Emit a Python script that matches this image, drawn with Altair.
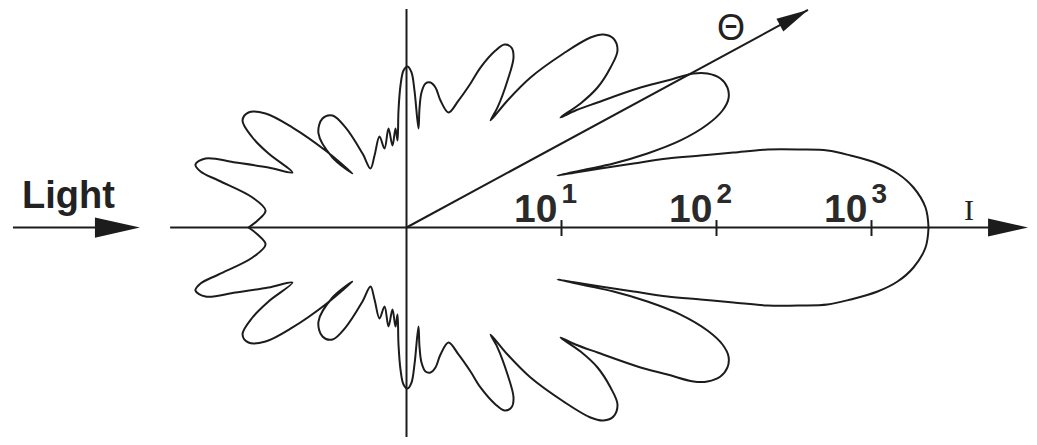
import math
import altair as alt
import pandas as pd

# ---- scattering diagram (upper half, 0 -> 180 deg) ----
# angle in degrees, radius in decades of intensity (log10 I)
theta_upper = [
    0.0, 2.21, 4.51, 6.28, 7.74, 9.21, 10.36, 11.20, 12.19, 12.92, 13.76, 14.81, 15.75, 16.91, 18.03, 19.00,
    17.95, 17.18, 17.07, 17.62, 18.89, 20.32, 21.83, 23.56, 25.39, 27.10, 28.22, 29.39, 31.03, 33.20, 34.70, 35.54,
    35.48, 36.24, 38.11, 40.00, 42.40, 44.41, 45.92, 47.94, 50.42, 51.51, 51.87,
    52.83, 55.51, 57.81, 59.74, 61.83, 63.30, 65.18, 66.04, 67.74, 69.93,
    75.01, 78.30, 80.60, 82.48, 83.66, 83.77, 83.09,
    86.66, 88.15, 89.64, 91.09, 92.42, 93.91, 95.91,
    96.34, 99.69, 100.30, 105.56, 106.53, 113.96, 121.39,
    120.74, 121.38, 123.45, 127.62, 133.11, 136.59, 135.00,
    136.45, 138.74, 141.04, 143.95, 146.88, 149.70, 151.80, 154.25,
    156.50, 159.19, 161.05, 163.38, 164.79, 165.96, 168.98, 173.13, 177.31, 180.0,
]
logI_upper = [
    3.368, 3.351, 3.281, 3.187, 3.067, 2.902, 2.761, 2.591, 2.383, 2.164, 1.953, 1.742, 1.522, 1.308, 1.147, 1.030,
    1.214, 1.398, 1.626, 1.855, 2.052, 2.174, 2.238, 2.259, 2.242, 2.181, 2.101, 1.932, 1.739, 1.473, 1.326, 1.221,
    1.379, 1.528, 1.673, 1.777, 1.808, 1.779, 1.706, 1.512, 1.256, 1.047, 0.878,
    0.972, 1.151, 1.296, 1.344, 1.339, 1.278, 1.137, 1.017, 0.885, 0.790,
    0.848, 0.922, 0.948, 0.937, 0.876, 0.772, 0.643,
    0.885, 1.001, 1.039, 1.013, 0.917, 0.757, 0.564,
    0.643, 0.537, 0.649, 0.529, 0.612, 0.508, 0.446,
    0.555, 0.756, 0.866, 0.888, 0.831, 0.657, 0.493,
    0.721, 0.978, 1.170, 1.261, 1.263, 1.151, 1.010, 0.817,
    0.971, 1.180, 1.371, 1.421, 1.377, 1.250, 1.012, 0.916, 0.962, 1.019,
]

tick_values = [1, 2, 3]
tick_exponents = ["1", "2", "3"]
theta_axis_deg = 28.45

# the lower half of the diagram is the mirror image of the upper half
theta_all = theta_upper + [-t for t in reversed(theta_upper)]
logI_all = logI_upper + list(reversed(logI_upper))
curve = pd.DataFrame({"theta": theta_all, "logI": logI_all, "order": list(range(len(theta_all)))})

# ---- layout ----
W, H = 1021, 429
PX = 155.0                      # pixels per decade
X0 = -(406.5 - 8) / PX
Y1 = (227.5 - 8) / PX
xs = alt.Scale(domain=[X0, X0 + W / PX], nice=False, zero=False)
ys = alt.Scale(domain=[Y1 - H / PX, Y1], nice=False, zero=False)
INK = "#1c1c1c"


def xq(f):
    return alt.X(f, type="quantitative", scale=xs, axis=None)


def yq(f):
    return alt.Y(f, type="quantitative", scale=ys, axis=None)


curve_layer = alt.Chart(curve).transform_calculate(
    x="datum.logI * cos(datum.theta * PI / 180)",
    y="datum.logI * sin(datum.theta * PI / 180)",
).mark_line(color=INK, strokeWidth=2, strokeJoin="round", interpolate="catmull-rom").encode(
    x=xq("x"), y=yq("y"), order="order:Q"
)

ca, sa = math.cos(math.radians(theta_axis_deg)), math.sin(math.radians(theta_axis_deg))
t_len = 2.946
segments = pd.DataFrame({
    "x":  [-1.525, -2.539, 0.0, 0.0] + tick_values,
    "y":  [0.0, 0.0, 1.41, 0.0] + [0.048] * 3,
    "x2": [3.77, -1.90, 0.0, t_len * ca] + tick_values,
    "y2": [0.0, 0.0, -1.40, t_len * sa] + [-0.055] * 3,
})
rule_layer = alt.Chart(segments).mark_rule(color=INK, strokeWidth=2).encode(
    x=xq("x"), y=yq("y"), x2="x2:Q", y2="y2:Q"
)

heads = pd.DataFrame({
    "x": [-1.865, 3.881, (t_len - 0.103) * ca],
    "y": [0.0, 0.0, (t_len - 0.103) * sa],
    "angle": [0.0, 0.0, 360 - theta_axis_deg],
    "size": [2025, 1600, 1024],
})
head_layer = alt.Chart(heads).mark_point(
    shape="M-1,-0.45L1,0L-1,0.45Z", filled=True, opacity=1, color=INK, strokeWidth=0
).encode(
    x=xq("x"), y=yq("y"),
    angle=alt.Angle("angle:Q", scale=None),
    size=alt.Size("size:Q", scale=None),
)

tick_df = pd.DataFrame({"x": tick_values, "y": [0.0] * 3, "exp": tick_exponents, "base": ["10"] * 3})
base_labels = alt.Chart(tick_df).mark_text(
    align="right", baseline="alphabetic", dx=-4, dy=-5.5,
    font="Liberation Sans", fontWeight="bold", fontSize=39, color="#2a2a2a"
).encode(x=xq("x"), y=yq("y"), text="base:N")
exp_labels = alt.Chart(tick_df).mark_text(
    align="left", baseline="alphabetic", dx=0, dy=-24.5,
    font="Liberation Sans", fontWeight="bold", fontSize=28, color="#2a2a2a"
).encode(x=xq("x"), y=yq("y"), text="exp:N")

light = alt.Chart(pd.DataFrame({"x": [-2.481], "y": [0.126], "t": ["Light"]})).mark_text(
    align="left", baseline="alphabetic",
    font="Liberation Sans", fontWeight="bold", fontSize=38, color="#222222"
).encode(x=xq("x"), y=yq("y"), text="t:N")

i_label = alt.Chart(pd.DataFrame({"x": [3.629], "y": [0.0], "t": ["I"]})).mark_text(
    align="center", baseline="alphabetic", dy=-7.5,
    font="Liberation Serif", fontSize=30, color="#222222"
).encode(x=xq("x"), y=yq("y"), text="t:N")

theta_label = alt.Chart(pd.DataFrame({"x": [2.094], "y": [1.28], "t": ["Θ"]})).mark_text(
    align="center", baseline="middle",
    font="Liberation Sans", fontSize=36, color="#222222"
).encode(x=xq("x"), y=yq("y"), text="t:N")

chart = alt.layer(
    rule_layer, curve_layer, head_layer, base_labels, exp_labels, light, i_label, theta_label
).properties(
    width=W, height=H, padding=0, autosize=alt.AutoSizeParams(type="none"), background="white"
).configure_view(stroke=None)

chart.save("out.html", embed_options={"renderer": "svg", "actions": False})
